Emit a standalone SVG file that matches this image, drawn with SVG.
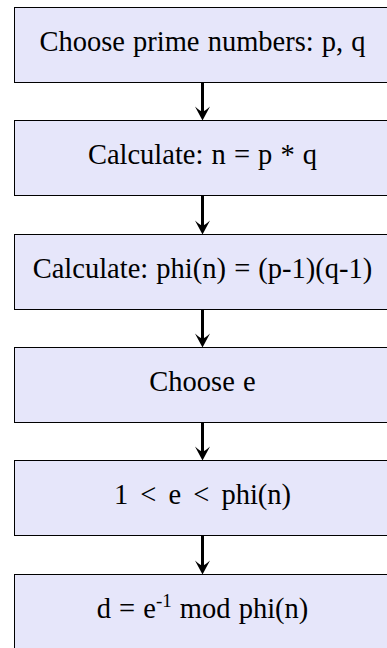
<svg xmlns="http://www.w3.org/2000/svg" width="387" height="648" viewBox="0 0 387 648">
<style>
.box{fill:#e6e6fa;stroke:#000;stroke-width:1}
.lbl{font-family:"Liberation Serif","Times New Roman",serif;font-size:28.5px;fill:#000;text-anchor:middle;word-spacing:1px}
.sup{font-size:19px}
.conn{stroke:#000;stroke-width:3;fill:none;marker-end:url(#ah)}
</style>
<defs>
<marker id="ah" markerUnits="userSpaceOnUse" markerWidth="18" markerHeight="18" refX="8" refY="8" orient="auto">
<path d="M16,8 L2,0.5 Q7,6 7,8 Q7,10 2,15.5 Z" fill="#000"/>
</marker>
</defs>
<rect width="387" height="648" fill="#fff"/>
<g id="n1"><rect class="box" x="14.5" y="7.5" width="377" height="75"/><text class="lbl" x="202.5" y="51">Choose prime numbers: p, q</text></g>
<g id="n2"><rect class="box" x="14.5" y="120.5" width="377" height="75"/><text class="lbl" x="202.5" y="164">Calculate: n = p * q</text></g>
<g id="n3"><rect class="box" x="14.5" y="234.5" width="377" height="75"/><text class="lbl" x="202.5" y="278">Calculate: phi(n) = (p-1)(q-1)</text></g>
<g id="n4"><rect class="box" x="14.5" y="347.5" width="377" height="75"/><text class="lbl" x="202.5" y="391">Choose e</text></g>
<g id="n5"><rect class="box" x="14.5" y="460.5" width="377" height="75"/><text class="lbl" x="202.5" y="504">1 <tspan dx="4">&lt;</tspan><tspan dx="4"> e </tspan><tspan dx="4">&lt;</tspan><tspan dx="4"> phi(n)</tspan></text></g>
<g id="n6"><rect class="box" x="14.5" y="574.5" width="377" height="75"/><text class="lbl" x="202.5" y="618">d = e<tspan class="sup" dy="-11">-1</tspan><tspan dy="11"> mod phi(n)</tspan></text></g>
<g id="connectors">
<line class="conn" x1="202.5" y1="83" x2="202.5" y2="112.5"/>
<line class="conn" x1="202.5" y1="196" x2="202.5" y2="226.5"/>
<line class="conn" x1="202.5" y1="310" x2="202.5" y2="339.5"/>
<line class="conn" x1="202.5" y1="423" x2="202.5" y2="452.5"/>
<line class="conn" x1="202.5" y1="536" x2="202.5" y2="566.5"/>
</g>
</svg>
